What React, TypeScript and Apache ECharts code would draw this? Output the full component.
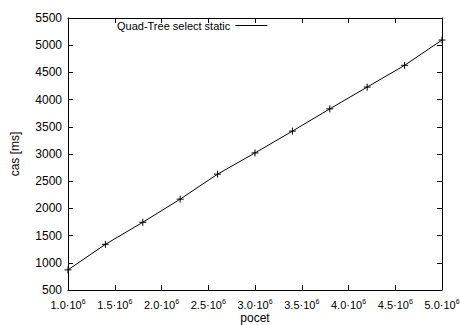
import React, { useEffect, useRef } from "react";
import * as echarts from "echarts";

// Element counts (x) and measured times in ms (y)
const counts = [1.0e6, 1.4e6, 1.8e6, 2.2e6, 2.6e6, 3.0e6, 3.4e6, 3.8e6, 4.2e6, 4.6e6, 5.0e6];
const times = [870, 1340, 1745, 2170, 2630, 3020, 3420, 3830, 4230, 4630, 5095];
const seriesName = "Quad-Tree select static";

const FONT = "Liberation Sans, Arial, sans-serif";
const plusSymbol = "path://M0,5L10,5M5,0L5,10";

export default function App() {
  const ref = useRef<HTMLDivElement>(null);

  useEffect(() => {
    if (!ref.current) return;
    const chart = echarts.init(ref.current, null, { renderer: "svg" });
    const axisLine = { show: true, lineStyle: { color: "#000", width: 1 } };
    const tick = { show: true, inside: true, length: 5, lineStyle: { color: "#000", width: 1 } };
    chart.setOption({
      animation: false,
      backgroundColor: "#fff",
      textStyle: { fontFamily: FONT },
      grid: {
        left: 68,
        right: 18,
        top: 18,
        bottom: 35,
        containLabel: false,
        outerBoundsMode: "none",
      },
      legend: {
        left: 112,
        top: 15,
        align: "right",
        itemWidth: 32,
        itemHeight: 1,
        itemGap: 6,
        textStyle: { fontSize: 11, color: "#000", fontFamily: FONT },
        data: [
          {
            name: seriesName,
            icon: "rect",
            itemStyle: { color: "#000", borderWidth: 0 },
          },
        ],
      },
      xAxis: [
        {
          type: "value",
          min: 1e6,
          max: 5e6,
          interval: 5e5,
          name: "pocet",
          nameLocation: "middle",
          nameGap: 22,
          nameMoveOverlap: false,
          nameTextStyle: { fontSize: 12, color: "#000", fontFamily: FONT },
          axisLine,
          axisTick: tick,
          splitLine: { show: false },
          axisLabel: {
            margin: 8,
            color: "#000",
            formatter: (v: number) => `{b|${(v / 1e6).toFixed(1)}·10}{s|6}`,
            rich: {
              b: { fontSize: 11, color: "#000", fontFamily: FONT, lineHeight: 12, verticalAlign: "bottom" },
              s: { fontSize: 7, color: "#000", fontFamily: FONT, lineHeight: 2, verticalAlign: "top" },
            },
          },
        },
        {
          type: "value",
          position: "top",
          min: 1e6,
          max: 5e6,
          interval: 5e5,
          axisLine,
          axisTick: tick,
          axisLabel: { show: false },
          splitLine: { show: false },
        },
      ],
      yAxis: [
        {
          type: "value",
          min: 500,
          max: 5500,
          interval: 500,
          name: "cas [ms]",
          nameLocation: "middle",
          nameGap: 47,
          nameMoveOverlap: false,
          nameTextStyle: { fontSize: 12, color: "#000", fontFamily: FONT },
          axisLine,
          axisTick: tick,
          splitLine: { show: false },
          axisLabel: {
            fontSize: 12,
            color: "#000",
            fontFamily: FONT,
            margin: 6,
            formatter: (v: number) => String(v),
          },
        },
        {
          type: "value",
          position: "right",
          min: 500,
          max: 5500,
          interval: 500,
          axisLine,
          axisTick: tick,
          axisLabel: { show: false },
          splitLine: { show: false },
        },
      ],
      series: [
        {
          name: seriesName,
          type: "line",
          data: counts.map((c, i) => [c, times[i]]),
          symbol: plusSymbol,
          symbolSize: 7,
          showAllSymbol: true,
          lineStyle: { color: "#000", width: 1 },
          itemStyle: { color: "none", borderColor: "#000", borderWidth: 1 },
          emphasis: { disabled: true },
        },
      ],
    });
    return () => chart.dispose();
  }, []);

  return (
    <div
      ref={ref}
      style={{ position: "fixed", left: 0, top: 0, width: 460, height: 325 }}
    />
  );
}
